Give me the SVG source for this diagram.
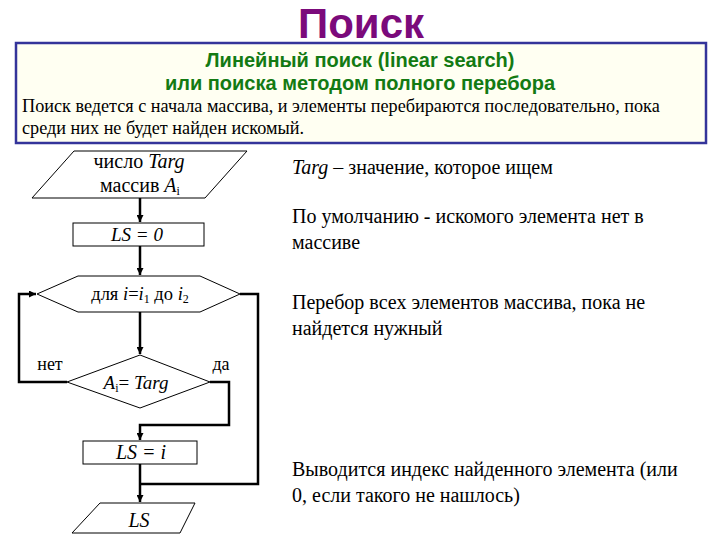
<svg xmlns="http://www.w3.org/2000/svg" width="720" height="540" viewBox="0 0 720 540">
<defs>
<marker id="arr" viewBox="0 0 10 10" refX="10" refY="5" markerWidth="7" markerHeight="7" orient="auto" markerUnits="userSpaceOnUse"><path d="M0,0 L10,5 L0,10 z" fill="#000"/></marker>
<style>
.shape{fill:#fff;stroke:#000;stroke-width:1}
.conn{fill:none;stroke:#000;stroke-width:2.5}
.tm{font-family:"Times New Roman","Liberation Serif","DejaVu Serif",serif;fill:#000}
.it{font-style:italic}
.gr{font-family:"Liberation Sans",Arial,sans-serif;font-weight:bold;fill:#137a13;font-size:20px;text-anchor:middle}
</style>
</defs>
<rect x="0" y="0" width="720" height="540" fill="#fff"/>
<text x="361" y="38" text-anchor="middle" font-family="Liberation Sans, Arial, sans-serif" font-weight="bold" font-size="42" fill="#7b0a7b">Поиск</text>
<g id="header">
<rect x="16" y="43" width="690" height="100" fill="#fffff2" stroke="#34349a" stroke-width="2.5"/>
<text class="gr" x="360" y="67">Линейный поиск (linear search)</text>
<text class="gr" x="360" y="90">или поиска методом полного перебора</text>
<text class="tm" x="22" y="112" font-size="18.2">Поиск ведется с начала массива, и элементы перебираются последовательно, пока</text>
<text class="tm" x="22" y="134" font-size="18.2">среди них не будет найден искомый.</text>
</g>
<g id="connectors">
<line class="conn" x1="140" y1="198" x2="140" y2="222" marker-end="url(#arr)"/>
<line class="conn" x1="140" y1="246" x2="140" y2="275" marker-end="url(#arr)"/>
<line class="conn" x1="140" y1="312" x2="140" y2="354" marker-end="url(#arr)"/>
<polyline class="conn" points="67,382 19,382 19,294 36,294" marker-end="url(#arr)"/>
<polyline class="conn" points="210,382 229,382 229,425 140,425 140,440" marker-end="url(#arr)"/>
<polyline class="conn" points="240,294 258,294 258,484 140,484"/>
<line class="conn" x1="140" y1="464" x2="140" y2="502" marker-end="url(#arr)"/>
</g>
<g id="input">
<polygon class="shape" points="74,151 247,151 205,198 32,198"/>
<text class="tm" x="139" y="168" font-size="20" text-anchor="middle">число <tspan class="it">Targ</tspan></text>
<text class="tm" x="140" y="192" font-size="20" text-anchor="middle">массив <tspan class="it">A</tspan><tspan font-size="12" dy="3">i</tspan></text>
</g>
<g id="init">
<rect class="shape" x="73" y="223" width="131" height="23"/>
<text class="tm it" x="137" y="241" font-size="19" text-anchor="middle">LS = 0</text>
</g>
<g id="loop">
<polygon class="shape" points="78,276 200,276 240,294 200,312 78,312 37,294"/>
<text class="tm" x="140" y="300" font-size="18.5" text-anchor="middle">для <tspan class="it">i</tspan>=<tspan class="it">i</tspan><tspan font-size="12" dy="3">1</tspan><tspan dy="-3"> до </tspan><tspan class="it">i</tspan><tspan font-size="12" dy="3">2</tspan></text>
</g>
<g id="cond">
<polygon class="shape" points="140,355 210,382 140,408 67,382"/>
<text class="tm" x="136" y="389" font-size="19" text-anchor="middle"><tspan class="it">A</tspan><tspan font-size="12" dy="3">i</tspan><tspan dy="-3">= </tspan><tspan class="it">Targ</tspan></text>
<text class="tm" x="50" y="370" font-size="18" text-anchor="middle">нет</text>
<text class="tm" x="221" y="370" font-size="18" text-anchor="middle">да</text>
</g>
<g id="assign">
<rect class="shape" x="83" y="441" width="114" height="23"/>
<text class="tm it" x="141" y="459" font-size="20" text-anchor="middle">LS = i</text>
</g>
<g id="output">
<polygon class="shape" points="100,503 195,503 180,533 72,533"/>
<text class="tm it" x="139" y="527" font-size="20" text-anchor="middle">LS</text>
</g>
<g id="notes" font-size="20">
<text class="tm" x="292" y="174"><tspan class="it">Targ</tspan> – значение, которое ищем</text>
<text class="tm" x="292" y="223">По умолчанию - искомого элемента нет в</text>
<text class="tm" x="292" y="249">массиве</text>
<text class="tm" x="292" y="309">Перебор всех элементов массива, пока не</text>
<text class="tm" x="292" y="335">найдется нужный</text>
<text class="tm" x="292" y="476">Выводится индекс найденного элемента (или</text>
<text class="tm" x="292" y="502">0, если такого не нашлось)</text>
</g>
</svg>
